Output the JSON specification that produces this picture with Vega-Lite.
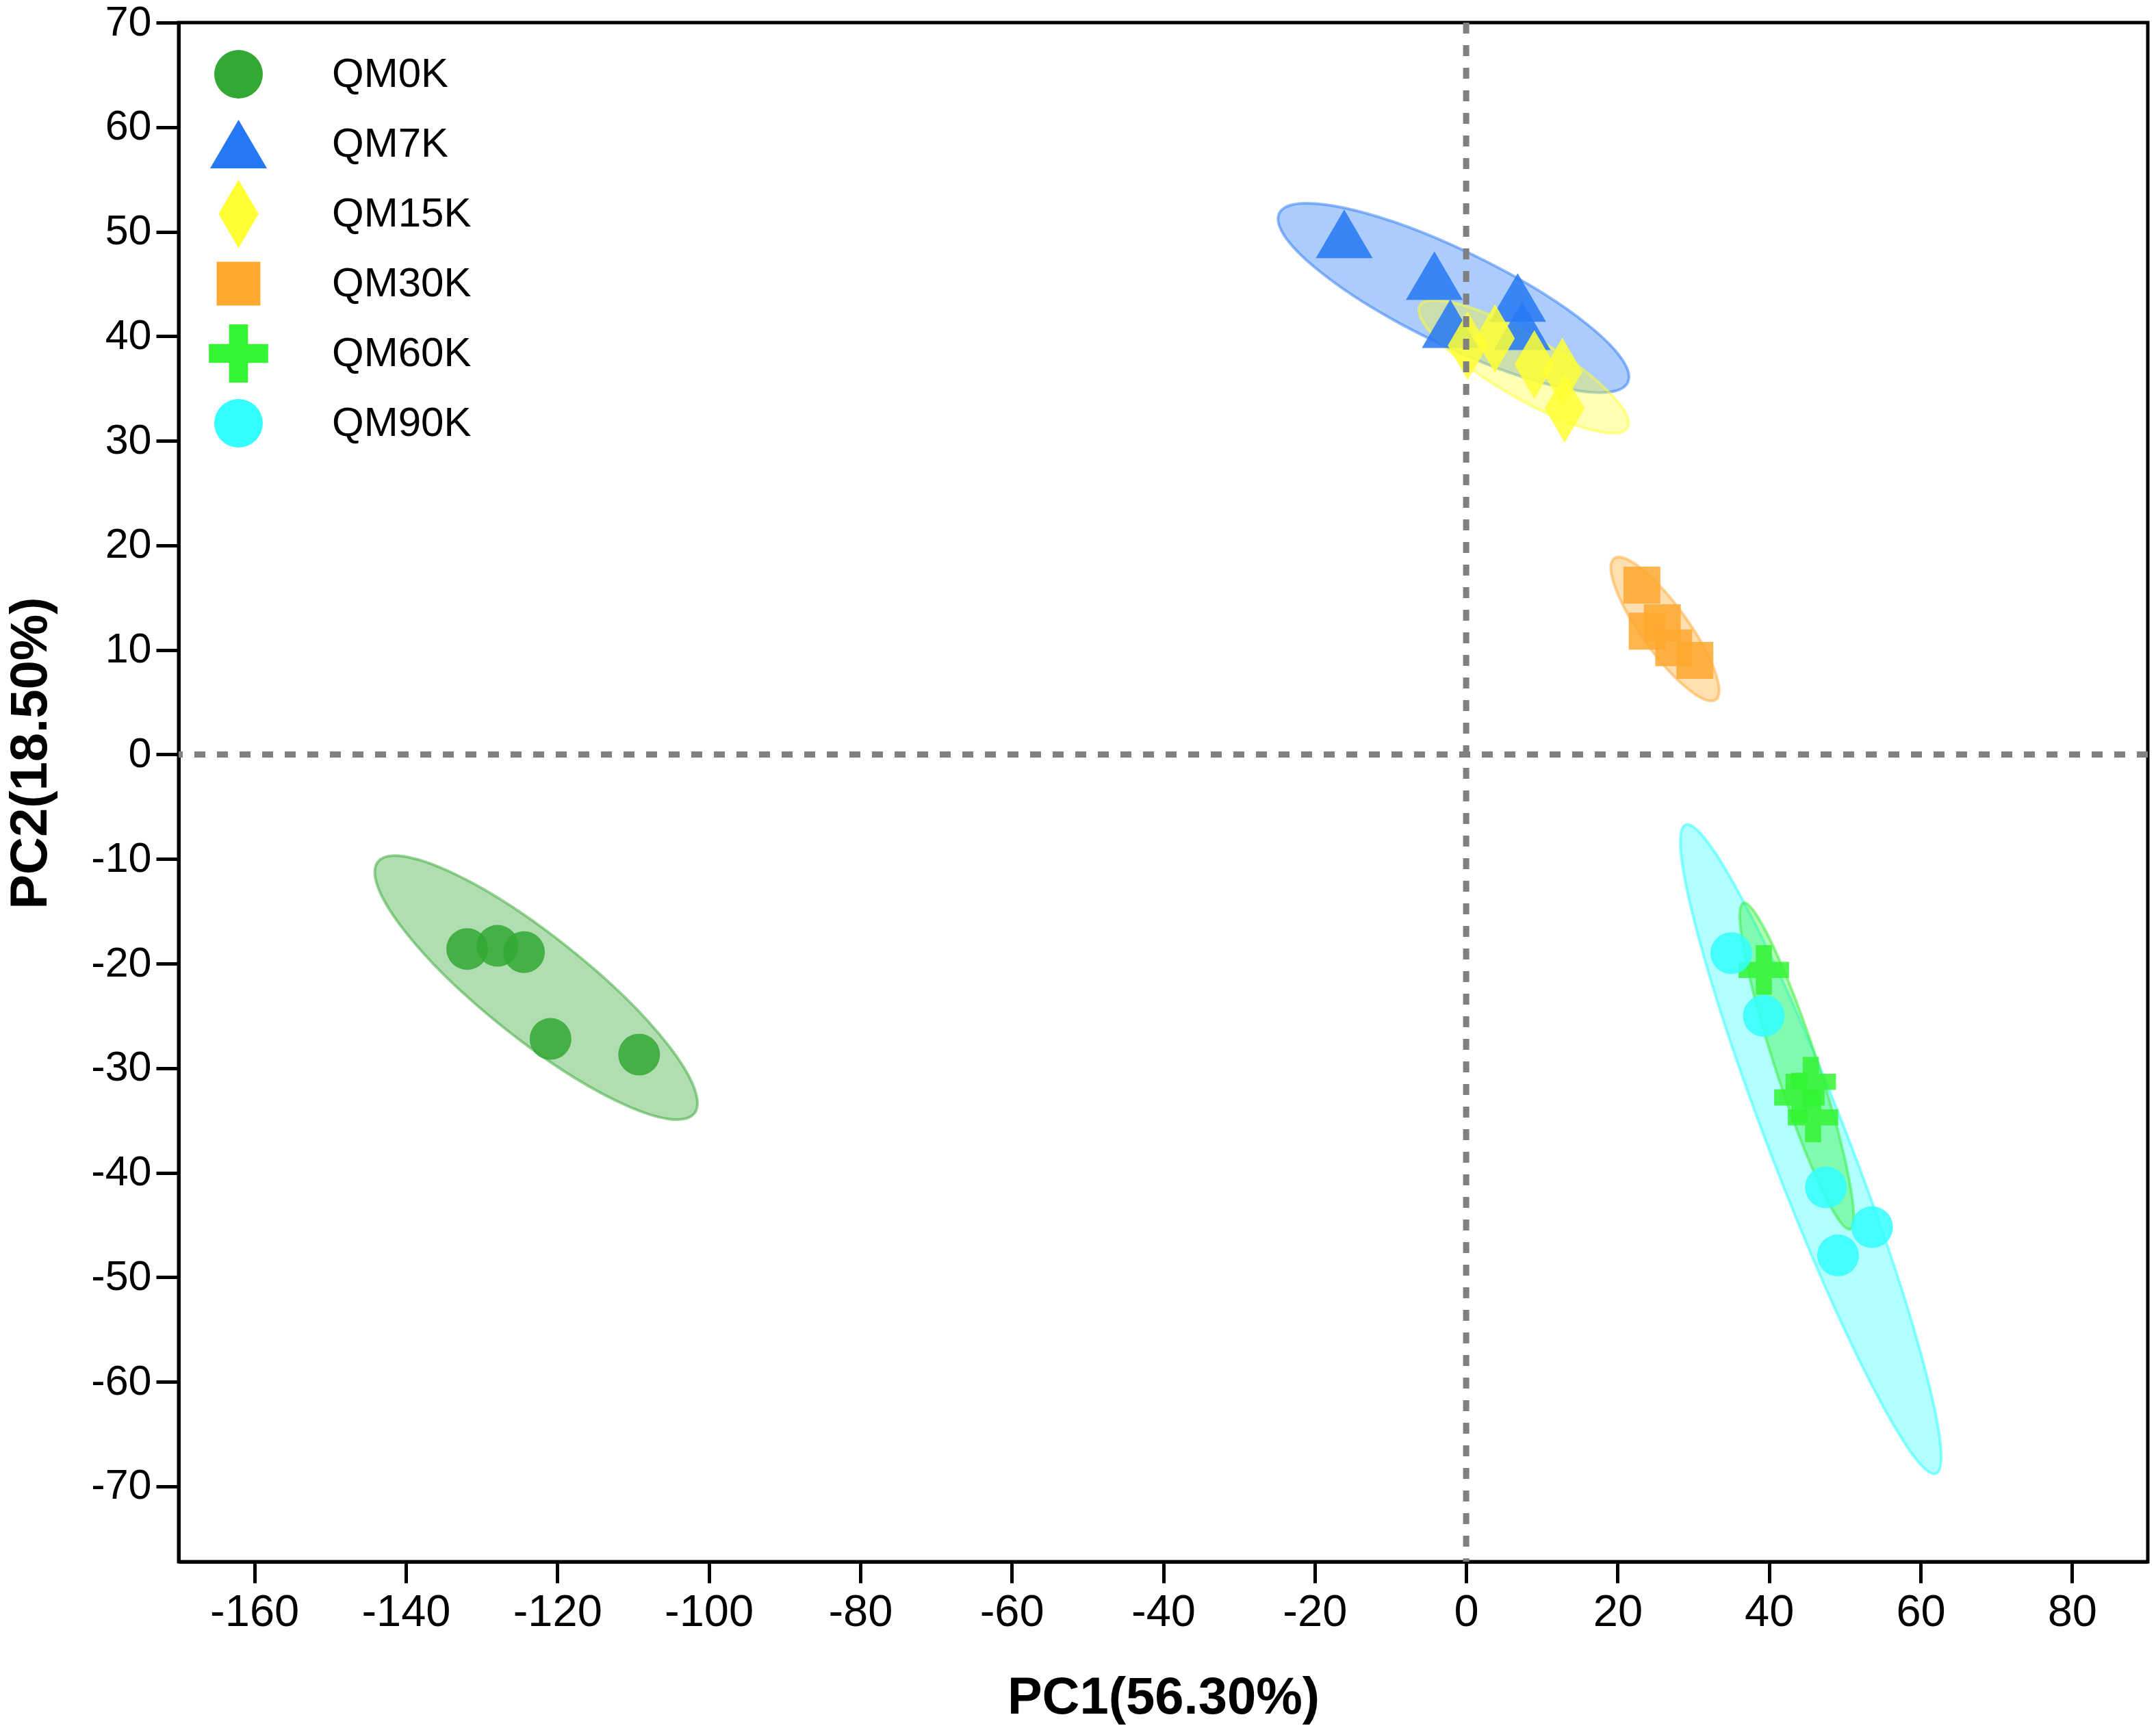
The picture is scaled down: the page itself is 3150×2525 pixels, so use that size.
{
  "$schema": "https://vega.github.io/schema/vega-lite/v6.json",
  "width": 2877,
  "height": 2249,
  "autosize": {"type": "none"},
  "padding": {"left": 261, "top": 33, "right": 12, "bottom": 243},
  "background": "white",
  "layer": [
    {
      "data": {"values": [{"group": "QM0K", "PC1": -122.8, "PC2": -22.3}]},
      "mark": {"type": "point", "shape": "M 0.7826 0.6225 A 1 0.2556 38.5 0 1 -0.7826 -0.6225 A 1 0.2556 38.5 0 1 0.7826 0.6225 Z", "size": 349045, "filled": true, "fill": "#33a833", "fillOpacity": 0.38, "stroke": "#33a833", "strokeOpacity": 0.5, "strokeWidth": 4, "opacity": 1},
      "encoding": {
        "x": {"field": "PC1", "type": "quantitative", "scale": {"domain": [-170, 90], "nice": false, "zero": false}, "axis": {"values": [-160, -140, -120, -100, -80, -60, -40, -20, 0, 20, 40, 60, 80], "title": "PC1(56.30%)", "labelExpr": "datum.value < 0 ? '-' + abs(datum.value) : '' + datum.value"}},
        "y": {"field": "PC2", "type": "quantitative", "scale": {"domain": [-77.2, 70], "nice": false, "zero": false}, "axis": {"values": [-70, -60, -50, -40, -30, -20, -10, 0, 10, 20, 30, 40, 50, 60, 70], "title": "PC2(18.50%)", "labelExpr": "datum.value < 0 ? '-' + abs(datum.value) : '' + datum.value"}}
      }
    },
    {
      "data": {"values": [{"group": "QM7K", "PC1": -1.67, "PC2": 43.67}]},
      "mark": {"type": "point", "shape": "M 0.8996 0.4368 A 1 0.2438 25.9 0 1 -0.8996 -0.4368 A 1 0.2438 25.9 0 1 0.8996 0.4368 Z", "size": 320356, "filled": true, "fill": "#2678f5", "fillOpacity": 0.38, "stroke": "#2678f5", "strokeOpacity": 0.5, "strokeWidth": 4, "opacity": 1},
      "encoding": {
        "x": {"field": "PC1", "type": "quantitative", "scale": {"domain": [-170, 90], "nice": false, "zero": false}},
        "y": {"field": "PC2", "type": "quantitative", "scale": {"domain": [-77.2, 70], "nice": false, "zero": false}}
      }
    },
    {
      "data": {"values": [{"group": "QM15K", "PC1": 7.6, "PC2": 37.1}]},
      "mark": {"type": "point", "shape": "M 0.8616 0.5075 A 1 0.2574 30.5 0 1 -0.8616 -0.5075 A 1 0.2574 30.5 0 1 0.8616 0.5075 Z", "size": 123904, "filled": true, "fill": "#ffff33", "fillOpacity": 0.38, "stroke": "#ffff33", "strokeOpacity": 0.5, "strokeWidth": 4, "opacity": 1},
      "encoding": {
        "x": {"field": "PC1", "type": "quantitative", "scale": {"domain": [-170, 90], "nice": false, "zero": false}},
        "y": {"field": "PC2", "type": "quantitative", "scale": {"domain": [-77.2, 70], "nice": false, "zero": false}}
      }
    },
    {
      "data": {"values": [{"group": "QM30K", "PC1": 26.25, "PC2": 12.0}]},
      "mark": {"type": "point", "shape": "M 0.5835 0.8121 A 1 0.2701 54.3 0 1 -0.5835 -0.8121 A 1 0.2701 54.3 0 1 0.5835 0.8121 Z", "size": 64516, "filled": true, "fill": "#ffa82e", "fillOpacity": 0.38, "stroke": "#ffa82e", "strokeOpacity": 0.5, "strokeWidth": 4, "opacity": 1},
      "encoding": {
        "x": {"field": "PC1", "type": "quantitative", "scale": {"domain": [-170, 90], "nice": false, "zero": false}},
        "y": {"field": "PC2", "type": "quantitative", "scale": {"domain": [-77.2, 70], "nice": false, "zero": false}}
      }
    },
    {
      "data": {"values": [{"group": "QM90K", "PC1": 45.5, "PC2": -37.75}]},
      "mark": {"type": "point", "shape": "M 0.3600 0.9330 A 1 0.1120 68.9 0 1 -0.3600 -0.9330 A 1 0.1120 68.9 0 1 0.3600 0.9330 Z", "size": 1032256, "filled": true, "fill": "#33ffff", "fillOpacity": 0.38, "stroke": "#33ffff", "strokeOpacity": 0.55, "strokeWidth": 4, "opacity": 1},
      "encoding": {
        "x": {"field": "PC1", "type": "quantitative", "scale": {"domain": [-170, 90], "nice": false, "zero": false}},
        "y": {"field": "PC2", "type": "quantitative", "scale": {"domain": [-77.2, 70], "nice": false, "zero": false}}
      }
    },
    {
      "data": {"values": [{"group": "QM60K", "PC1": 43.65, "PC2": -29.8}]},
      "mark": {"type": "point", "shape": "M 0.3107 0.9505 A 1 0.1233 71.9 0 1 -0.3107 -0.9505 A 1 0.1233 71.9 0 1 0.3107 0.9505 Z", "size": 251401, "filled": true, "fill": "#33ee33", "fillOpacity": 0.38, "stroke": "#33ee33", "strokeOpacity": 0.5, "strokeWidth": 4, "opacity": 1},
      "encoding": {
        "x": {"field": "PC1", "type": "quantitative", "scale": {"domain": [-170, 90], "nice": false, "zero": false}},
        "y": {"field": "PC2", "type": "quantitative", "scale": {"domain": [-77.2, 70], "nice": false, "zero": false}}
      }
    },
    {
      "data": {"values": [
        {"group": "QM0K", "PC1": -131.9, "PC2": -18.6},
        {"group": "QM0K", "PC1": -127.9, "PC2": -18.3},
        {"group": "QM0K", "PC1": -124.4, "PC2": -18.9},
        {"group": "QM0K", "PC1": -120.9, "PC2": -27.2},
        {"group": "QM0K", "PC1": -109.2, "PC2": -28.7},
        {"group": "QM7K", "PC1": -16.1, "PC2": 49.8},
        {"group": "QM7K", "PC1": -4.2, "PC2": 45.8},
        {"group": "QM7K", "PC1": 6.8, "PC2": 43.7},
        {"group": "QM7K", "PC1": -2.1, "PC2": 41.2},
        {"group": "QM7K", "PC1": 7.4, "PC2": 41.0},
        {"group": "QM15K", "PC1": 0.2, "PC2": 39.1},
        {"group": "QM15K", "PC1": 3.8, "PC2": 39.8},
        {"group": "QM15K", "PC1": 9.0, "PC2": 37.3},
        {"group": "QM15K", "PC1": 12.7, "PC2": 36.6},
        {"group": "QM15K", "PC1": 13.0, "PC2": 33.1},
        {"group": "QM30K", "PC1": 23.2, "PC2": 16.2},
        {"group": "QM30K", "PC1": 23.9, "PC2": 11.8},
        {"group": "QM30K", "PC1": 25.9, "PC2": 12.6},
        {"group": "QM30K", "PC1": 27.4, "PC2": 10.2},
        {"group": "QM30K", "PC1": 30.2, "PC2": 9.0},
        {"group": "QM60K", "PC1": 39.3, "PC2": -20.6},
        {"group": "QM60K", "PC1": 45.5, "PC2": -31.3},
        {"group": "QM60K", "PC1": 44.0, "PC2": -32.8},
        {"group": "QM60K", "PC1": 45.8, "PC2": -34.7},
        {"group": "QM90K", "PC1": 35.0, "PC2": -19.0},
        {"group": "QM90K", "PC1": 39.3, "PC2": -25.0},
        {"group": "QM90K", "PC1": 47.5, "PC2": -41.4},
        {"group": "QM90K", "PC1": 53.6, "PC2": -45.2},
        {"group": "QM90K", "PC1": 49.1, "PC2": -47.9}
      ]},
      "encoding": {
        "x": {"field": "PC1", "type": "quantitative", "scale": {"domain": [-170, 90], "nice": false, "zero": false}},
        "y": {"field": "PC2", "type": "quantitative", "scale": {"domain": [-77.2, 70], "nice": false, "zero": false}},
        "color": {
          "field": "group", "type": "nominal",
          "scale": {"domain": ["QM0K", "QM7K", "QM15K", "QM30K", "QM60K", "QM90K"], "range": ["#33a833", "#2678f5", "#ffff33", "#ffa82e", "#33f533", "#33ffff"]},
          "legend": {"title": null, "orient": "none", "direction": "vertical", "legendX": 52, "legendY": 40, "padding": 0, "gridAlign": "all", "symbolSize": 5041, "symbolStrokeWidth": 0, "symbolOpacity": 1, "labelFontSize": 60, "labelFont": "Liberation Sans", "labelColor": "black", "labelLimit": 0, "rowPadding": 1, "labelOffset": 101}
        },
        "shape": {
          "field": "group", "type": "nominal",
          "scale": {"domain": ["QM0K", "QM7K", "QM15K", "QM30K", "QM60K", "QM90K"], "range": [
            "circle",
            "M 0 -1 L 1.17 1 L -1.17 1 Z",
            "M 0 -1.41 L 0.82 0 L 0 1.41 L -0.82 0 Z",
            "M -0.9 -0.9 L 0.9 -0.9 L 0.9 0.9 L -0.9 0.9 Z",
            "M -0.39 -1.2 L 0.39 -1.2 L 0.39 -0.39 L 1.22 -0.39 L 1.22 0.39 L 0.39 0.39 L 0.39 1.2 L -0.39 1.2 L -0.39 0.39 L -1.22 0.39 L -1.22 -0.39 L -0.39 -0.39 Z",
            "circle"
          ]},
          "legend": {"title": null, "orient": "none", "direction": "vertical", "legendX": 52, "legendY": 40, "padding": 0, "gridAlign": "all", "symbolSize": 5041, "symbolStrokeWidth": 0, "symbolOpacity": 1, "labelFontSize": 60, "labelFont": "Liberation Sans", "labelColor": "black", "labelLimit": 0, "rowPadding": 1, "labelOffset": 101}
        }
      },
      "layer": [
        {"transform": [{"filter": "datum.group === 'QM0K'"}], "mark": {"type": "point", "filled": true, "size": 3721, "opacity": 1, "fillOpacity": 0.85, "strokeWidth": 0}},
        {"transform": [{"filter": "datum.group === 'QM7K'"}], "mark": {"type": "point", "filled": true, "size": 5041, "opacity": 1, "fillOpacity": 0.85, "strokeWidth": 0}},
        {"transform": [{"filter": "datum.group === 'QM15K'"}], "mark": {"type": "point", "filled": true, "size": 5041, "opacity": 1, "fillOpacity": 0.85, "strokeWidth": 0}},
        {"transform": [{"filter": "datum.group === 'QM30K'"}], "mark": {"type": "point", "filled": true, "size": 3590, "opacity": 1, "fillOpacity": 0.85, "strokeWidth": 0}},
        {"transform": [{"filter": "datum.group === 'QM60K'"}], "mark": {"type": "point", "filled": true, "size": 3648, "opacity": 1, "fillOpacity": 0.85, "strokeWidth": 0}},
        {"transform": [{"filter": "datum.group === 'QM90K'"}], "mark": {"type": "point", "filled": true, "size": 3721, "opacity": 1, "fillOpacity": 0.85, "strokeWidth": 0}}
      ]
    },
    {
      "data": {"values": [{"PC1": 0}]},
      "mark": {"type": "rule", "color": "#808080", "strokeWidth": 9, "strokeDash": [16, 17]},
      "encoding": {
        "x": {"field": "PC1", "type": "quantitative", "scale": {"domain": [-170, 90], "nice": false, "zero": false}}
      }
    },
    {
      "data": {"values": [{"PC2": 0}]},
      "mark": {"type": "rule", "color": "#808080", "strokeWidth": 9, "strokeDash": [16, 17]},
      "encoding": {
        "y": {"field": "PC2", "type": "quantitative", "scale": {"domain": [-77.2, 70], "nice": false, "zero": false}}
      }
    }
  ],
  "config": {
    "view": {"stroke": "black", "strokeWidth": 5},
    "axis": {
      "grid": false,
      "domainColor": "black",
      "domainWidth": 5,
      "tickColor": "black",
      "tickWidth": 5,
      "labelColor": "black",
      "labelFont": "Liberation Sans",
      "titleFont": "Liberation Sans",
      "titleFontWeight": "bold",
      "titleFontSize": 76,
      "titleColor": "black",
      "labelFlush": false,
      "labelOverlap": false
    },
    "axisX": {"tickSize": 31, "labelFontSize": 65, "labelPadding": 11, "titleY": 221, "titleBaseline": "alphabetic"},
    "axisY": {"tickSize": 33, "labelFontSize": 61, "labelPadding": 7, "titleX": -194, "titleY": 1067, "titleBaseline": "alphabetic", "titleAngle": 270, "titleAlign": "center"}
  }
}
